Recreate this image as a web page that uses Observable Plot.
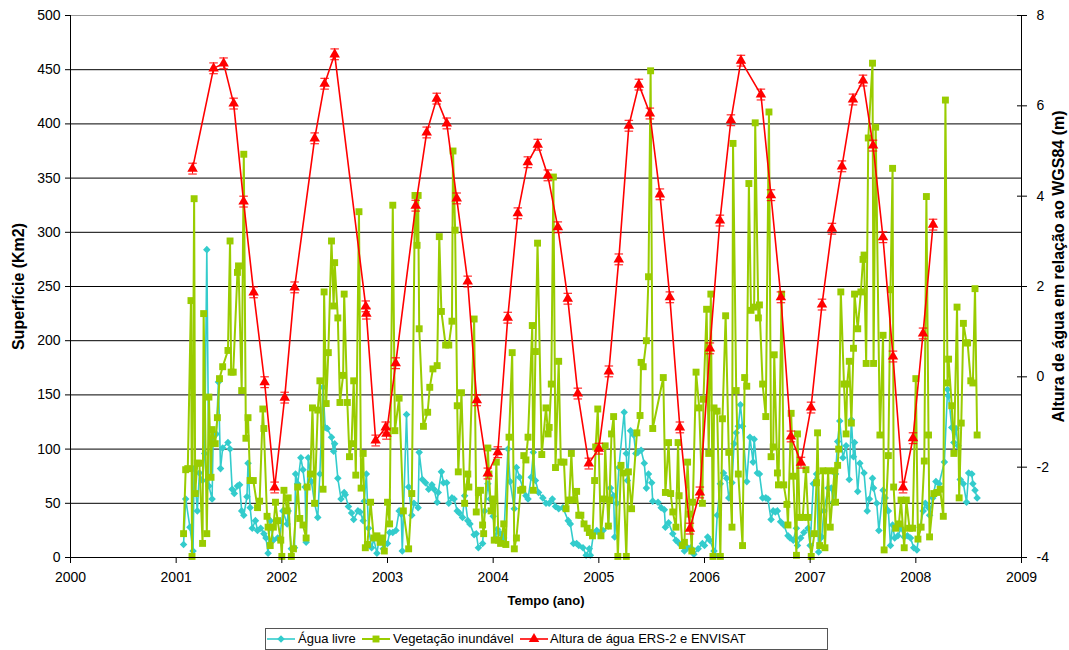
<!DOCTYPE html>
<html><head><meta charset="utf-8">
<script src="https://cdn.jsdelivr.net/npm/d3@7"></script>
<script src="https://cdn.jsdelivr.net/npm/@observablehq/plot@0.6"></script>
<style>
html,body{margin:0;padding:0;background:#fff;overflow:hidden;width:1069px;height:650px;}
#chart{position:absolute;left:0;top:0;}
#legend{position:absolute;left:265px;top:628px;width:561px;height:20px;border:1px solid #555;background:#fff;font:13px "Liberation Sans",Arial,sans-serif;color:#000;}
.sw{position:absolute;top:0;}
.lb{position:absolute;top:0;line-height:20px;white-space:nowrap;}
</style></head><body>
<div id="chart"></div><div id="legend"></div>
<script>
// ---- data (time in decimal years) ----
const anosX = [2000,2001,2002,2003,2004,2005,2006,2007,2008,2009];
const ticksEsq = [0,50,100,150,200,250,300,350,400,450,500];
const gradeY = [50,100,150,200,250,300,350,400,450];
const ticksDir = [-4,-2,0,2,4,6,8];
const nomes = ["Água livre","Vegetação inundável","Altura de água ERS-2 e ENVISAT"];
const cores = ["#33CCCC","#99CC00","#FF0000"];

const aguaLivre = [[2001.07,12],[2001.09,54],[2001.13,28],[2001.16,6],[2001.17,82],[2001.20,43],[2001.22,78],[2001.25,71],[2001.27,96],[2001.29,284],[2001.31,66],[2001.34,54],[2001.35,111],[2001.38,114],[2001.40,162],[2001.42,82],[2001.44,101],[2001.49,106],[2001.51,100],[2001.53,63],[2001.55,59],[2001.58,66],[2001.60,67],[2001.62,43],[2001.64,39],[2001.67,56],[2001.68,87],[2001.70,46],[2001.72,27],[2001.75,34],[2001.77,25],[2001.80,27],[2001.83,22],[2001.85,18],[2001.87,4],[2001.89,34],[2001.92,16],[2001.96,18],[2001.98,18],[2002.01,43],[2002.05,31],[2002.06,43],[2002.09,8],[2002.12,9],[2002.13,77],[2002.15,68],[2002.18,92],[2002.20,81],[2002.22,65],[2002.23,14],[2002.25,92],[2002.28,70],[2002.31,50],[2002.34,37],[2002.36,77],[2002.39,157],[2002.41,120],[2002.43,119],[2002.47,111],[2002.49,98],[2002.50,105],[2002.53,73],[2002.56,54],[2002.59,60],[2002.60,58],[2002.63,47],[2002.66,41],[2002.68,35],[2002.72,43],[2002.74,42],[2002.77,34],[2002.78,52],[2002.80,77],[2002.82,27],[2002.85,9],[2002.87,17],[2002.90,4],[2002.92,17],[2002.95,16],[2002.96,8],[2003.00,13],[2003.02,23],[2003.05,23],[2003.08,25],[2003.11,43],[2003.13,40],[2003.14,6],[2003.18,132],[2003.20,65],[2003.23,39],[2003.25,50],[2003.29,46],[2003.30,97],[2003.33,72],[2003.36,69],[2003.39,63],[2003.42,67],[2003.44,63],[2003.47,51],[2003.48,60],[2003.51,79],[2003.53,69],[2003.56,69],[2003.58,50],[2003.61,55],[2003.63,54],[2003.66,43],[2003.68,41],[2003.71,37],[2003.73,57],[2003.76,34],[2003.78,31],[2003.82,21],[2003.84,22],[2003.86,9],[2003.90,13],[2003.92,43],[2003.95,68],[2003.97,54],[2004.00,38],[2004.02,18],[2004.04,26],[2004.07,22],[2004.10,18],[2004.14,100],[2004.16,70],[2004.20,45],[2004.22,83],[2004.25,74],[2004.28,64],[2004.31,57],[2004.33,54],[2004.36,74],[2004.38,97],[2004.40,71],[2004.43,60],[2004.47,55],[2004.50,50],[2004.53,50],[2004.56,54],[2004.59,47],[2004.62,45],[2004.66,46],[2004.71,34],[2004.73,31],[2004.76,13],[2004.79,13],[2004.81,11],[2004.85,9],[2004.88,2],[2004.91,8],[2004.92,2],[2004.95,22],[2004.98,25],[2005.00,23],[2005.04,25],[2005.09,29],[2005.11,64],[2005.14,57],[2005.15,19],[2005.17,50],[2005.19,83],[2005.24,134],[2005.26,96],[2005.27,71],[2005.30,117],[2005.33,113],[2005.35,96],[2005.37,97],[2005.40,99],[2005.43,87],[2005.45,64],[2005.47,77],[2005.50,69],[2005.51,52],[2005.56,51],[2005.59,46],[2005.62,44],[2005.63,28],[2005.66,32],[2005.70,22],[2005.73,16],[2005.75,14],[2005.78,11],[2005.81,6],[2005.84,9],[2005.87,9],[2005.90,3],[2005.94,8],[2005.98,13],[2006.00,11],[2006.03,19],[2006.05,16],[2006.09,6],[2006.10,2],[2006.12,39],[2006.15,68],[2006.18,78],[2006.21,73],[2006.23,55],[2006.26,69],[2006.28,105],[2006.30,115],[2006.32,121],[2006.34,141],[2006.36,121],[2006.40,70],[2006.43,111],[2006.46,88],[2006.47,109],[2006.50,78],[2006.52,77],[2006.55,55],[2006.58,55],[2006.60,54],[2006.63,35],[2006.65,43],[2006.67,42],[2006.69,43],[2006.72,33],[2006.75,30],[2006.79,20],[2006.81,18],[2006.84,16],[2006.87,27],[2006.88,11],[2006.91,18],[2006.94,23],[2006.98,27],[2007.00,11],[2007.03,68],[2007.06,77],[2007.08,5],[2007.11,19],[2007.13,43],[2007.17,64],[2007.20,64],[2007.22,51],[2007.24,77],[2007.26,107],[2007.28,126],[2007.31,92],[2007.34,103],[2007.37,72],[2007.39,127],[2007.41,93],[2007.42,106],[2007.45,61],[2007.47,87],[2007.51,78],[2007.54,43],[2007.56,54],[2007.59,73],[2007.60,64],[2007.63,50],[2007.65,25],[2007.69,62],[2007.71,55],[2007.74,43],[2007.76,11],[2007.78,30],[2007.80,18],[2007.83,20],[2007.86,27],[2007.89,19],[2007.92,20],[2007.95,18],[2007.98,9],[2008.01,7],[2008.04,28],[2008.07,43],[2008.09,50],[2008.12,46],[2008.13,39],[2008.16,55],[2008.19,70],[2008.22,68],[2008.27,88],[2008.30,155],[2008.31,149],[2008.34,120],[2008.36,106],[2008.38,119],[2008.40,103],[2008.42,72],[2008.45,68],[2008.48,51],[2008.50,78],[2008.53,77],[2008.54,68],[2008.56,62],[2008.58,55]];

const vegetacao = [[2001.07,22],[2001.09,81],[2001.11,82],[2001.14,237],[2001.15,1],[2001.17,331],[2001.18,59],[2001.20,87],[2001.22,87],[2001.25,13],[2001.26,225],[2001.29,22],[2001.31,148],[2001.33,74],[2001.34,118],[2001.37,105],[2001.39,129],[2001.41,165],[2001.44,176],[2001.49,191],[2001.51,292],[2001.52,171],[2001.54,171],[2001.58,263],[2001.59,269],[2001.62,154],[2001.64,372],[2001.66,110],[2001.68,129],[2001.70,71],[2001.73,71],[2001.77,46],[2001.79,52],[2001.82,137],[2001.83,119],[2001.86,38],[2001.87,28],[2001.89,11],[2001.92,28],[2001.94,51],[2001.96,34],[2001.99,16],[2002.00,1],[2002.02,62],[2002.05,43],[2002.06,55],[2002.09,1],[2002.11,8],[2002.15,65],[2002.17,36],[2002.20,30],[2002.23,18],[2002.24,65],[2002.27,77],[2002.29,138],[2002.31,50],[2002.34,136],[2002.36,163],[2002.39,63],[2002.40,245],[2002.42,142],[2002.44,189],[2002.47,292],[2002.49,232],[2002.50,272],[2002.53,221],[2002.55,143],[2002.58,168],[2002.59,243],[2002.62,143],[2002.64,93],[2002.66,105],[2002.68,163],[2002.70,76],[2002.73,319],[2002.75,64],[2002.77,96],[2002.79,9],[2002.81,12],[2002.84,51],[2002.87,18],[2002.90,20],[2002.93,14],[2002.95,18],[2002.97,6],[2003.00,51],[2003.02,31],[2003.05,325],[2003.07,117],[2003.11,147],[2003.15,43],[2003.20,8],[2003.23,59],[2003.26,334],[2003.28,288],[2003.29,334],[2003.30,211],[2003.34,121],[2003.38,134],[2003.40,157],[2003.43,174],[2003.47,177],[2003.49,296],[2003.51,227],[2003.55,196],[2003.58,196],[2003.61,218],[2003.62,375],[2003.64,302],[2003.66,140],[2003.67,79],[2003.70,152],[2003.73,50],[2003.76,77],[2003.77,65],[2003.82,220],[2003.84,42],[2003.86,60],[2003.88,62],[2003.90,30],[2003.91,22],[2003.95,101],[2003.96,77],[2003.98,43],[2004.00,54],[2004.01,16],[2004.03,88],[2004.05,16],[2004.07,13],[2004.10,31],[2004.12,12],[2004.15,111],[2004.18,189],[2004.20,8],[2004.22,18],[2004.26,62],[2004.28,63],[2004.29,94],[2004.31,90],[2004.33,111],[2004.37,214],[2004.38,62],[2004.40,190],[2004.42,290],[2004.46,95],[2004.50,138],[2004.52,114],[2004.53,120],[2004.55,160],[2004.57,351],[2004.59,83],[2004.62,181],[2004.64,88],[2004.67,88],[2004.69,45],[2004.72,53],[2004.74,96],[2004.76,53],[2004.79,61],[2004.81,39],[2004.83,39],[2004.86,31],[2004.89,27],[2004.91,23],[2004.94,20],[2004.96,71],[2004.97,102],[2004.99,137],[2005.02,20],[2005.05,54],[2005.06,103],[2005.09,29],[2005.10,53],[2005.12,114],[2005.14,130],[2005.18,1],[2005.21,85],[2005.23,78],[2005.26,1],[2005.28,79],[2005.31,45],[2005.36,115],[2005.39,131],[2005.40,180],[2005.42,176],[2005.45,200],[2005.47,259],[2005.49,449],[2005.51,119],[2005.61,166],[2005.63,60],[2005.66,106],[2005.68,59],[2005.70,42],[2005.73,28],[2005.75,106],[2005.76,57],[2005.79,11],[2005.81,14],[2005.84,88],[2005.86,40],[2005.88,6],[2005.89,51],[2005.92,171],[2005.95,138],[2005.98,50],[2005.99,146],[2006.02,229],[2006.04,96],[2006.06,243],[2006.08,1],[2006.09,138],[2006.12,135],[2006.15,1],[2006.17,128],[2006.20,223],[2006.23,97],[2006.26,28],[2006.27,382],[2006.30,154],[2006.32,77],[2006.36,11],[2006.38,166],[2006.40,158],[2006.42,345],[2006.44,228],[2006.47,231],[2006.48,401],[2006.51,221],[2006.52,233],[2006.55,160],[2006.58,130],[2006.61,411],[2006.63,93],[2006.65,102],[2006.66,187],[2006.69,78],[2006.70,67],[2006.73,243],[2006.75,67],[2006.78,49],[2006.79,30],[2006.82,133],[2006.84,75],[2006.87,2],[2006.88,114],[2006.90,37],[2006.93,37],[2006.96,81],[2006.98,37],[2007.01,1],[2007.04,22],[2007.06,69],[2007.07,115],[2007.09,11],[2007.12,80],[2007.14,9],[2007.17,80],[2007.19,28],[2007.23,80],[2007.24,51],[2007.26,85],[2007.27,100],[2007.29,245],[2007.32,160],[2007.34,114],[2007.35,160],[2007.37,181],[2007.39,124],[2007.41,193],[2007.42,243],[2007.45,211],[2007.48,245],[2007.50,275],[2007.51,279],[2007.53,179],[2007.55,387],[2007.59,456],[2007.60,179],[2007.62,397],[2007.66,113],[2007.69,205],[2007.70,7],[2007.74,94],[2007.76,247],[2007.78,359],[2007.79,65],[2007.81,27],[2007.84,31],[2007.86,53],[2007.89,9],[2007.91,53],[2007.94,27],[2007.97,27],[2008.00,165],[2008.02,17],[2008.05,28],[2008.08,89],[2008.10,333],[2008.12,113],[2008.13,19],[2008.17,59],[2008.20,60],[2008.23,63],[2008.26,38],[2008.28,422],[2008.30,161],[2008.31,183],[2008.34,140],[2008.36,96],[2008.39,231],[2008.41,55],[2008.43,124],[2008.45,216],[2008.48,198],[2008.49,198],[2008.52,163],[2008.54,161],[2008.56,248],[2008.58,113]];

// water height (m, WGS84)
const alturaAgua = [[2001.155,4.61],[2001.354,6.83],[2001.449,6.94],[2001.544,6.05],[2001.638,3.88],[2001.733,1.87],[2001.837,-0.12],[2001.932,-2.45],[2002.027,-0.46],[2002.121,1.98],[2002.311,5.28],[2002.405,6.49],[2002.500,7.14],[2002.794,1.56],[2002.800,1.40],[2002.888,-1.41],[2002.983,-1.12],[2002.990,-1.26],[2003.078,0.30],[2003.267,3.79],[2003.371,5.41],[2003.466,6.16],[2003.561,5.61],[2003.655,3.95],[2003.759,2.11],[2003.845,-0.52],[2003.949,-2.14],[2004.044,-1.67],[2004.138,1.31],[2004.233,3.62],[2004.328,4.75],[2004.422,5.14],[2004.517,4.46],[2004.612,3.31],[2004.706,1.73],[2004.801,-0.37],[2004.905,-1.92],[2005.000,-1.59],[2005.095,0.12],[2005.189,2.60],[2005.284,5.56],[2005.379,6.47],[2005.483,5.83],[2005.578,4.04],[2005.672,1.76],[2005.767,-1.12],[2005.862,-3.36],[2005.956,-2.56],[2006.051,0.63],[2006.146,3.46],[2006.250,5.68],[2006.345,7.00],[2006.534,6.25],[2006.629,4.02],[2006.723,1.76],[2006.818,-1.32],[2006.913,-1.90],[2007.008,-0.68],[2007.112,1.60],[2007.206,3.28],[2007.301,4.66],[2007.405,6.14],[2007.500,6.56],[2007.595,5.12],[2007.689,3.09],[2007.784,0.45],[2007.879,-2.45],[2007.973,-1.36],[2008.068,0.96],[2008.163,3.37]];
const erroAltura = 0.12;

// ---- helpers ----
const kmPorM = 500 / 12;                 // right axis -4..8 m over left 0..500 km²
const paraKm = m => (m + 4) * kmPorM;
const agua = aguaLivre.map(([t, v]) => ({t, v}));
const veg = vegetacao.map(([t, v]) => ({t, v}));
const alt = alturaAgua.map(([t, m]) => ({t, m}));
const barra = {draw(ctx, size) { const w = Math.sqrt(size) / 2; ctx.moveTo(-w, 0); ctx.lineTo(w, 0); }};

const plot = Plot.plot({
  width: 1069, height: 620,
  marginLeft: 70, marginRight: 48, marginTop: 15, marginBottom: 63,
  style: {fontFamily: '"Liberation Sans", Arial, sans-serif', fontSize: "14px", color: "#000", background: "#fff", overflow: "visible"},
  x: {domain: [2000, 2009]},
  y: {domain: [0, 500]},
  marks: [
    Plot.ruleY(gradeY, {stroke: "#000", strokeWidth: 1}),
    Plot.ruleY([500], {stroke: "#999", strokeWidth: 1}),
    Plot.line(agua, {x: "t", y: "v", stroke: cores[0], strokeWidth: 1.6}),
    Plot.dot(agua, {x: "t", y: "v", symbol: "diamond2", fill: cores[0], r: 3.4}),
    Plot.line(veg, {x: "t", y: "v", stroke: cores[1], strokeWidth: 2}),
    Plot.dot(veg, {x: "t", y: "v", symbol: "square", fill: cores[1], r: 3.9}),
    Plot.ruleX(alt, {x: "t", y1: d => paraKm(d.m - erroAltura), y2: d => paraKm(d.m + erroAltura), stroke: cores[2], strokeWidth: 1}),
    Plot.line(alt, {x: "t", y: d => paraKm(d.m), stroke: cores[2], strokeWidth: 1.6}),
    Plot.dot(alt, {x: "t", y: d => paraKm(d.m + erroAltura), symbol: barra, stroke: cores[2], strokeWidth: 1, r: 4.8}),
    Plot.dot(alt, {x: "t", y: d => paraKm(d.m - erroAltura), symbol: barra, stroke: cores[2], strokeWidth: 1, r: 4.8}),
    Plot.dot(alt, {x: "t", y: d => paraKm(d.m), symbol: "triangle", fill: cores[2], r: 3.9}),
    Plot.ruleX([2000, 2009], {stroke: "#000", strokeWidth: 1}),
    Plot.ruleY([0], {stroke: "#000", strokeWidth: 1}),
    Plot.axisX({ticks: anosX, tickFormat: d => String(d), tickSize: 6, tickPadding: 9, label: null}),
    Plot.axisY({anchor: "left", ticks: ticksEsq, tickFormat: d => String(d), tickSize: 5, tickPadding: 5, label: null}),
    Plot.axisY({anchor: "right", ticks: ticksDir.map(paraKm), tickFormat: v => String(Math.round(v / kmPorM - 4)), tickSize: 10, dx: -5, tickPadding: 10, label: null}),
    Plot.text(["Superfície (Km2)"], {text: d => d, frameAnchor: "left", textAnchor: "middle", dx: -52, rotate: -90, fontWeight: "bold", fontSize: 16}),
    Plot.text(["Altura de água em relação ao WGS84 (m)"], {text: d => d, frameAnchor: "right", textAnchor: "middle", dx: 37, dy: -20, rotate: -90, fontWeight: "bold", fontSize: 16}),
    Plot.text(["Tempo (ano)"], {text: d => d, frameAnchor: "bottom", dy: 47, fontWeight: "bold", fontSize: 13})
  ]
});
document.getElementById("chart").appendChild(plot);

// ---- legend ----
const leg = d3.select("#legend");
const itens = [
  {sw: 0, lb: 32, sym: d3.symbolDiamond2, size: Math.PI * 3.4 * 3.4, w: 1.6},
  {sw: 95, lb: 127, sym: d3.symbolSquare, size: Math.PI * 3.9 * 3.9, w: 2},
  {sw: 253, lb: 284, sym: d3.symbolTriangle, size: Math.PI * 3.9 * 3.9, w: 1.6}
];
itens.forEach((it, i) => {
  const s = leg.append("svg").attr("class", "sw").attr("width", 30).attr("height", 20).style("left", it.sw + "px");
  s.append("line").attr("x1", 1).attr("x2", 29).attr("y1", 10).attr("y2", 10).attr("stroke", cores[i]).attr("stroke-width", it.w);
  s.append("path").attr("d", d3.symbol(it.sym, it.size)()).attr("transform", "translate(15,10)").attr("fill", cores[i]);
  leg.append("span").attr("class", "lb").style("left", it.lb + "px").text(nomes[i]);
});
</script>
</body></html>
